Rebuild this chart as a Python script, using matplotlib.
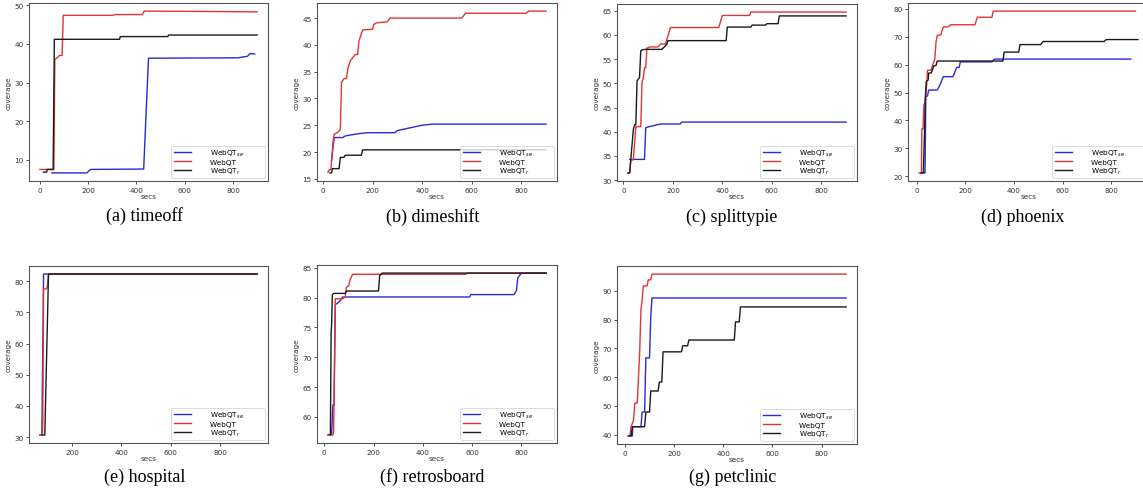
import matplotlib
matplotlib.use("Agg")
import matplotlib.pyplot as plt
from matplotlib.ticker import MultipleLocator

# ---- data (secs, coverage) ----
# (a) timeoff
timeoff_se_x = [50, 195, 210, 430, 450, 820, 860, 870, 890]
timeoff_se_y = [6.6, 6.6, 7.5, 7.6, 36.3, 36.4, 36.8, 37.5, 37.4]
timeoff_qt_x = [0, 58, 62, 75, 80, 92, 97, 300, 310, 425, 432, 700, 900]
timeoff_qt_y = [7.5, 7.5, 36.0, 36.5, 37.0, 37.0, 47.4, 47.4, 47.6, 47.6, 48.5, 48.4, 48.3]
timeoff_r_x = [15, 28, 30, 55, 60, 330, 333, 530, 533, 900]
timeoff_r_y = [6.8, 6.8, 7.5, 7.5, 41.2, 41.2, 41.9, 41.9, 42.3, 42.3]

# (b) dimeshift
dime_se_x = [35, 45, 80, 90, 140, 180, 290, 300, 400, 440, 900]
dime_se_y = [18.5, 22.7, 22.7, 23.0, 23.4, 23.6, 23.6, 24.0, 25.0, 25.2, 25.2]
dime_qt_x = [20, 25, 32, 35, 42, 45, 60, 70, 75, 85, 95, 100, 110, 130, 140, 145, 160,
             200, 205, 215, 260, 270, 560, 575, 820, 830, 900]
dime_qt_y = [16.2, 16.7, 16.7, 18.5, 22.5, 23.3, 23.7, 24.2, 33.0, 33.7, 33.7, 35.5, 37.0,
             38.2, 38.2, 40.7, 42.8, 42.9, 43.8, 44.1, 44.3, 45.0, 45.0, 45.9, 45.9, 46.3, 46.3]
dime_r_x = [28, 35, 38, 65, 70, 85, 90, 155, 160, 900]
dime_r_y = [16.1, 16.1, 16.9, 16.9, 19.0, 19.0, 19.4, 19.4, 20.4, 20.4]

# (c) splittypie
split_se_x = [25, 85, 90, 100, 150, 230, 235, 900]
split_se_y = [34.3, 34.3, 40.8, 41.0, 41.6, 41.6, 42.0, 42.0]
split_qt_x = [18, 25, 30, 40, 50, 70, 75, 80, 85, 90, 95, 100, 105, 140, 150, 170, 190,
              385, 400, 510, 515, 900]
split_qt_y = [31.5, 31.5, 34.2, 34.2, 41.0, 41.1, 50.3, 51.0, 53.2, 53.2, 57.3, 57.3, 57.5,
              57.5, 58.1, 58.1, 61.5, 61.5, 64.0, 64.0, 64.7, 64.7]
split_r_x = [18, 25, 40, 45, 50, 55, 65, 70, 75, 90, 155, 165, 175, 180, 415, 420, 515,
             520, 575, 580, 625, 630, 900]
split_r_y = [31.5, 31.5, 40.5, 41.4, 41.4, 50.5, 51.2, 56.7, 56.9, 57.0, 57.0, 57.5, 58.0,
             58.8, 58.8, 61.6, 61.6, 62.0, 62.0, 62.3, 62.3, 63.9, 63.9]

# (d) phoenix
phx_se_x = [25, 35, 38, 45, 50, 85, 95, 110, 150, 165, 175, 180, 310, 320, 880]
phx_se_y = [21.2, 21.2, 48.5, 48.8, 50.9, 50.9, 52.5, 55.7, 55.7, 59.0, 59.0, 61.0, 61.0, 62.0, 62.0]
phx_qt_x = [10, 20, 22, 27, 30, 35, 38, 42, 45, 60, 65, 75, 80, 85, 100, 110, 130, 140,
            240, 250, 310, 315, 900]
phx_qt_y = [21.2, 21.2, 37.0, 37.0, 45.5, 46.5, 49.0, 53.0, 58.0, 58.0, 59.5, 62.0, 68.0,
            70.5, 70.7, 73.5, 73.6, 74.3, 74.3, 77.0, 77.0, 79.2, 79.2]
phx_r_x = [18, 28, 33, 36, 40, 48, 50, 60, 65, 70, 80, 85, 355, 360, 420, 425, 510, 520,
           770, 780, 910]
phx_r_y = [21.2, 21.2, 36.0, 48.0, 54.0, 54.5, 57.0, 57.0, 58.0, 59.5, 59.7, 61.3, 61.3,
           64.5, 64.5, 67.2, 67.2, 68.3, 68.3, 69.0, 69.0]

# (e) hospital
hosp_se_x = [70, 78, 85, 950]
hosp_se_y = [30.7, 30.7, 82.3, 82.3]
hosp_qt_x = [70, 80, 82, 85, 95, 100, 105, 950]
hosp_qt_y = [30.7, 30.7, 36.0, 77.5, 77.5, 78.0, 82.3, 82.3]
hosp_r_x = [80, 90, 105, 950]
hosp_r_y = [30.7, 30.7, 82.3, 82.3]

# (f) retrosboard
retro_se_x = [30, 35, 40, 45, 55, 65, 75, 590, 595, 770, 780, 785, 800, 900]
retro_se_y = [57.0, 62.0, 62.0, 78.8, 79.1, 79.5, 80.1, 80.1, 80.5, 80.5, 81.2, 83.3, 84.1, 84.1]
retro_qt_x = [25, 35, 38, 45, 75, 80, 85, 90, 100, 105, 115, 575, 580, 900]
retro_qt_y = [57.0, 57.0, 57.3, 79.8, 79.8, 80.0, 80.0, 81.7, 82.0, 83.0, 83.9, 83.9, 84.1, 84.1]
retro_r_x = [15, 25, 28, 30, 33, 40, 85, 90, 220, 225, 235, 900]
retro_r_y = [57.0, 57.0, 74.0, 75.5, 80.5, 80.7, 80.7, 81.1, 81.1, 83.7, 84.1, 84.1]

# (g) petclinic
pet_se_x = [20, 30, 32, 65, 70, 80, 85, 100, 105, 110, 900]
pet_se_y = [39.6, 39.6, 42.8, 42.8, 47.9, 47.9, 66.7, 66.7, 81.3, 87.5, 87.5]
pet_qt_x = [12, 20, 25, 35, 40, 50, 55, 60, 65, 70, 75, 90, 95, 105, 110, 900]
pet_qt_y = [39.6, 39.6, 42.8, 45.0, 51.0, 51.0, 60.0, 69.0, 83.3, 87.0, 91.7, 91.7, 93.8,
            93.8, 95.8, 95.8]
pet_r_x = [15, 25, 30, 80, 85, 100, 105, 135, 140, 150, 155, 230, 235, 255, 260, 445,
           450, 465, 470, 900]
pet_r_y = [39.6, 39.6, 42.8, 42.8, 47.9, 47.9, 55.2, 55.2, 58.3, 58.3, 68.8, 68.8, 70.9,
           70.9, 72.9, 72.9, 79.2, 79.2, 84.4, 84.4]

captions = ["(a) timeoff", "(b) dimeshift", "(c) splittypie", "(d) phoenix",
            "(e) hospital", "(f) retrosboard", "(g) petclinic"]
series = [
    (timeoff_se_x, timeoff_se_y, timeoff_qt_x, timeoff_qt_y, timeoff_r_x, timeoff_r_y),
    (dime_se_x, dime_se_y, dime_qt_x, dime_qt_y, dime_r_x, dime_r_y),
    (split_se_x, split_se_y, split_qt_x, split_qt_y, split_r_x, split_r_y),
    (phx_se_x, phx_se_y, phx_qt_x, phx_qt_y, phx_r_x, phx_r_y),
    (hosp_se_x, hosp_se_y, hosp_qt_x, hosp_qt_y, hosp_r_x, hosp_r_y),
    (retro_se_x, retro_se_y, retro_qt_x, retro_qt_y, retro_r_x, retro_r_y),
    (pet_se_x, pet_se_y, pet_qt_x, pet_qt_y, pet_r_x, pet_r_y),
]
labels = ["WebQT$_{se}$", "WebQT", "WebQT$_{r}$"]
colors = ["#2a2ad8", "#e03535", "#1a1a1a"]
ystep = [10, 5, 5, 10, 10, 5, 10]

# axes boxes in pixels: left, top, right, bottom
W, H = 1143, 489
boxes = [(29, 4, 268, 182), (317, 4, 557, 182), (617, 5, 857, 182), (908, 4, 1149, 182),
         (29, 267, 268, 444), (317, 266, 557, 444), (617, 267, 857, 445)]
cap_pos = [(145, 216), (433, 217), (732, 217), (1023, 217),
           (145, 477), (432, 477), (733, 477)]

fig = plt.figure(figsize=(W / 100, H / 100), dpi=100)

for i in range(7):
    l, t, r, b = boxes[i]
    ax = fig.add_axes([l / W, 1 - b / H, (r - l) / W, (b - t) / H])
    sx, sy, qx, qy, rx, ry = series[i]
    ax.plot(sx, sy, color=colors[0], lw=1.0, label=labels[0])
    ax.plot(qx, qy, color=colors[1], lw=1.0, label=labels[1])
    ax.plot(rx, ry, color=colors[2], lw=1.0, label=labels[2])
    ax.yaxis.set_major_locator(MultipleLocator(ystep[i]))
    ax.xaxis.set_major_locator(MultipleLocator(200))
    ax.tick_params(labelsize=5.2, length=2.5, width=0.6, colors="#333333", pad=1.5)
    for s in ax.spines.values():
        s.set_color("#555555")
        s.set_linewidth(0.8)
    ax.set_xlabel("secs", fontsize=5.2, color="#333333", labelpad=0)
    ax.set_ylabel("coverage", fontsize=5.2, color="#333333", labelpad=2)
    leg = ax.legend(loc="lower right", fontsize=5.2, handlelength=2.4, handletextpad=2.6,
                    labelspacing=0.1, borderaxespad=0.45, borderpad=0.3, fancybox=True)
    for txt in leg.get_texts():
        txt.set_text(txt.get_text() + "         ")
    leg.get_frame().set_edgecolor("#cccccc")
    leg.get_frame().set_linewidth(0.6)
    cx, cy = cap_pos[i]
    fig.text(cx / W, 1 - cy / H, captions[i], ha="center", va="center",
             fontsize=13, family="Liberation Serif")

fig.savefig("out.png", dpi=100)
